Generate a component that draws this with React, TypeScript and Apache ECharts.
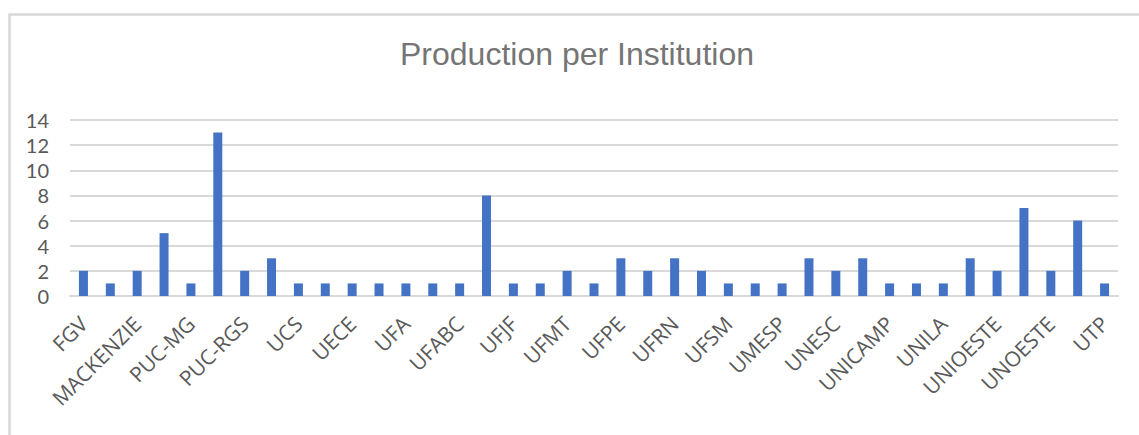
import React, { useEffect, useRef } from "react";
import * as echarts from "echarts";

const institutions = [
  "FGV", "FURB", "MACKENZIE", "PUC-GO", "PUC-MG", "PUC-PR", "PUC-RGS", "PUC-SP",
  "UCS", "UEA", "UECE", "UEL", "UFA", "UFAL", "UFABC", "UFBA", "UFJF", "UFMG",
  "UFMT", "UFPB", "UFPE", "UFPR", "UFRN", "UFSC", "UFSM", "UFU", "UMESP", "UNB",
  "UNESC", "UNESP", "UNICAMP", "UNIFESP", "UNILA", "UNINOVE", "UNIOESTE",
  "UNISINOS", "UNOESTE", "USP", "UTP",
];

const production = [
  2, 1, 2, 5, 1, 13, 2, 3, 1, 1, 1, 1, 1, 1, 1, 8, 1, 1, 2, 1, 3, 2, 3, 2, 1,
  1, 1, 3, 2, 3, 1, 1, 1, 3, 2, 7, 2, 6, 1,
];

const titleText = "Production per Institution";
const yMin = 0;
const yMax = 14;
const yStep = 2;

export default function App() {
  const ref = useRef<HTMLDivElement>(null);

  useEffect(() => {
    if (!ref.current) return;
    const chart = echarts.init(ref.current, null, { renderer: "svg" });
    chart.setOption({
      animation: false,
      backgroundColor: "#ffffff",
      graphic: [
        {
          type: "rect",
          shape: { x: 9.5, y: 14.5, width: 1200, height: 600 },
          style: { fill: "none", stroke: "#d9d9d9", lineWidth: 2.5 },
          silent: true,
        },
        {
          type: "text",
          x: 577,
          y: 54,
          style: {
            text: titleText,
            align: "center",
            verticalAlign: "middle",
            fontFamily: "Liberation Sans, Arial, sans-serif",
            fontSize: 32,
            fill: "#757575",
          },
          silent: true,
        },
      ],
      grid: { left: 70, right: 21, top: 120, bottom: 139 },
      xAxis: {
        type: "category",
        data: institutions,
        axisLine: { show: true, lineStyle: { color: "#d9d9d9", width: 2 } },
        axisTick: { show: false },
        axisLabel: {
          interval: 1,
          rotate: 45,
          margin: 24,
          fontFamily: "Open Sans, sans-serif",
          fontSize: 21,
          color: "#595959",
        },
      },
      yAxis: {
        type: "value",
        min: yMin,
        max: yMax,
        interval: yStep,
        axisLine: { show: false },
        axisTick: { show: false },
        splitLine: { lineStyle: { color: "#d9d9d9", width: 2 } },
        axisLabel: {
          margin: 21,
          fontFamily: "Lato, sans-serif",
          fontSize: 20,
          lineHeight: 20,
          color: "#595959",
        },
      },
      series: [
        {
          type: "bar",
          data: production,
          barWidth: 9,
          itemStyle: { color: "#4472c4" },
        },
      ],
    });
    return () => chart.dispose();
  }, []);

  return (
    <div
      ref={ref}
      style={{ position: "absolute", left: 0, top: 0, width: 1139, height: 435 }}
    />
  );
}
